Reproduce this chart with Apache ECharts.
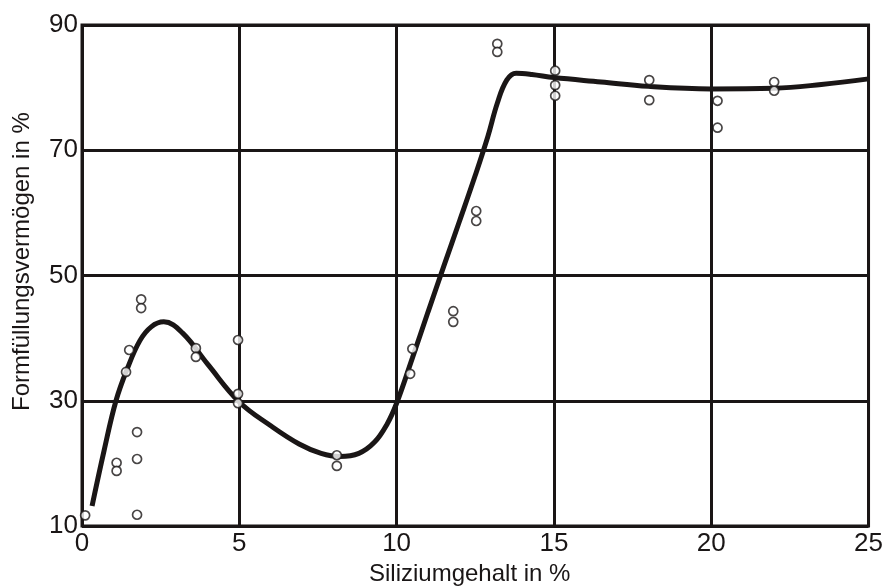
<!DOCTYPE html>
<html>
<head>
<meta charset="utf-8">
<script src="https://cdn.jsdelivr.net/npm/echarts@6/dist/echarts.min.js"></script>
<style>html,body{margin:0;padding:0;background:#fff}#c{width:886px;height:586px}</style>
</head>
<body>
<div id="c"></div>
<script>
// Measured points (Silizium %, Formfüllungsvermögen %)
const pointsX = [0.1, 1.1, 1.1, 1.75, 1.75, 1.75, 1.5, 1.4, 1.88, 1.88, 3.62, 3.62, 4.96, 4.96, 4.96, 8.1, 8.1, 10.5, 10.43, 11.8, 11.8, 12.53, 12.53, 13.2, 13.2, 15.04, 15.04, 15.04, 18.03, 18.03, 20.2, 20.2, 22.0, 22.0];
const pointsY = [11.7, 20.1, 18.8, 25.0, 20.7, 11.8, 38.1, 34.6, 46.2, 44.8, 38.4, 37.0, 39.7, 31.1, 29.6, 21.3, 19.6, 38.3, 34.3, 44.3, 42.6, 60.3, 58.7, 87.0, 85.7, 82.7, 80.4, 78.7, 81.2, 78.0, 77.9, 73.6, 80.9, 79.5];
// Fitted curve
const curveX = [0.32, 0.7, 1.08, 1.43, 1.84, 2.2, 2.6, 3.2, 4.0, 5.0, 6.0, 6.9, 7.6, 8.2, 8.8, 9.3, 9.7, 10.0, 10.5, 11.0, 11.5, 12.0, 12.5, 12.9, 13.2, 13.5, 13.8, 14.3, 15.0, 16.5, 18.0, 20.0, 22.0, 23.5, 25.0];
const curveY = [13.2, 22.0, 30.0, 35.0, 39.6, 41.8, 42.6, 40.8, 35.8, 29.8, 26.0, 23.1, 21.6, 21.1, 21.6, 23.4, 26.3, 29.6, 36.8, 44.2, 51.5, 58.7, 66.0, 72.2, 77.5, 81.2, 82.3, 82.1, 81.6, 80.9, 80.2, 79.8, 79.9, 80.5, 81.4];
const xTicks = [0, 5, 10, 15, 20, 25];
const yTicks = [10, 30, 50, 70, 90];

const ink = '#1a1616';
const font = 'Liberation Sans, Arial, sans-serif';
const chart = echarts.init(document.getElementById('c'), null, {renderer: 'canvas'});
chart.setOption({
  backgroundColor: '#fff',
  animation: false,
  grid: {left: 82, right: 17, top: 25, bottom: 60, show: true, borderColor: ink, borderWidth: 3, backgroundColor: 'transparent'},
  xAxis: {
    type: 'value', min: xTicks[0], max: xTicks[xTicks.length - 1], interval: 5,
    axisLine: {show: false}, axisTick: {show: false},
    axisLabel: {color: ink, fontSize: 26, fontFamily: font, margin: 5},
    splitLine: {show: true, lineStyle: {color: ink, width: 3}}
  },
  yAxis: {
    type: 'value', min: yTicks[0], max: yTicks[yTicks.length - 1], interval: 20,
    axisLine: {show: false}, axisTick: {show: false},
    axisLabel: {color: ink, fontSize: 26, fontFamily: font, margin: 4},
    splitLine: {show: true, lineStyle: {color: ink, width: 3}}
  },
  graphic: [
    {type: 'text', style: {text: 'Siliziumgehalt in %', fontSize: 24, fontFamily: font, fill: ink}, top: 562, left: 369},
    {type: 'text', rotation: Math.PI / 2, x: 10, y: 411, style: {text: 'Formfüllungsvermögen in %', fontSize: 24, fontFamily: font, fill: ink, textVerticalAlign: 'top'}}
  ],
  series: [
    {
      type: 'line', data: curveX.map((x, i) => [x, curveY[i]]),
      smooth: 0.4, showSymbol: false, symbol: 'none',
      lineStyle: {color: ink, width: 5}, z: 3
    },
    {
      type: 'scatter', data: pointsX.map((x, i) => [x, pointsY[i]]),
      symbol: 'circle', symbolSize: 9,
      itemStyle: {color: '#fff', borderColor: ink, borderWidth: 1.7}, z: 4
    }
  ]
});
</script>
</body>
</html>
